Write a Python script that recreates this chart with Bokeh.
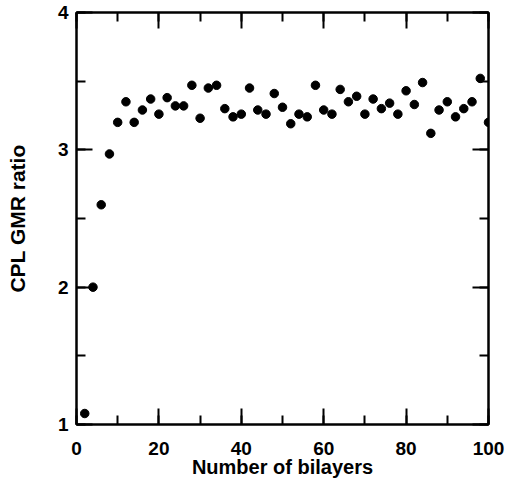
from bokeh.plotting import figure
from bokeh.models import LinearAxis, Range1d, SingleIntervalTicker, CustomJSTickFormatter
from bokeh.embed import file_html
from bokeh.resources import INLINE

# GMR ratio measured against the number of bilayers
bilayers = [2, 4, 6, 8, 10, 12, 14, 16, 18, 20,
            22, 24, 26, 28, 30, 32, 34, 36, 38, 40,
            42, 44, 46, 48, 50, 52, 54, 56, 58, 60,
            62, 64, 66, 68, 70, 72, 74, 76, 78, 80,
            82, 84, 86, 88, 90, 92, 94, 96, 98, 100]
gmr_ratio = [1.08, 2.00, 2.60, 2.97, 3.20, 3.35, 3.20, 3.29, 3.37, 3.26,
             3.38, 3.32, 3.32, 3.47, 3.23, 3.45, 3.47, 3.30, 3.24, 3.26,
             3.45, 3.29, 3.26, 3.41, 3.31, 3.19, 3.26, 3.24, 3.47, 3.29,
             3.26, 3.44, 3.35, 3.39, 3.26, 3.37, 3.30, 3.34, 3.26, 3.43,
             3.33, 3.49, 3.12, 3.29, 3.35, 3.24, 3.30, 3.35, 3.52, 3.20]

FONT = "Liberation Sans"

p = figure(width=511, height=483, output_backend="svg", toolbar_location=None,
           x_range=Range1d(0, 100), y_range=Range1d(1, 4),
           min_border_left=76, min_border_right=23,
           min_border_top=12, min_border_bottom=59,
           x_axis_label="Number of bilayers", y_axis_label="CPL GMR ratio")

p.grid.visible = False
p.background_fill_color = "white"
p.border_fill_color = "white"
p.outline_line_color = "black"
p.outline_line_width = 2

bottom = p.below[0]
left = p.left[0]

x_ticker = SingleIntervalTicker(interval=20, num_minor_ticks=2)
y_ticker = SingleIntervalTicker(interval=1, num_minor_ticks=2)
bottom.ticker = x_ticker
left.ticker = y_ticker

# mirrored tick marks on the top and right edges, without labels
blank = CustomJSTickFormatter(code="return ''")
top = LinearAxis(ticker=x_ticker, formatter=blank)
right = LinearAxis(ticker=y_ticker, formatter=blank)
p.add_layout(top, "above")
p.add_layout(right, "right")

for ax in [bottom, left, top, right]:
    ax.axis_line_width = 2
    ax.axis_line_color = "black"
    ax.major_tick_in = 16
    ax.major_tick_out = 0
    ax.minor_tick_in = 9
    ax.minor_tick_out = 0
    ax.major_tick_line_width = 2
    ax.minor_tick_line_width = 2
    ax.major_tick_line_color = "black"
    ax.minor_tick_line_color = "black"
    ax.major_label_text_font = FONT
    ax.major_label_text_font_style = "bold"
    ax.major_label_text_font_size = "19px"
    ax.major_label_text_color = "black"
    ax.axis_label_text_font = FONT
    ax.axis_label_text_font_style = "bold"
    ax.axis_label_text_color = "black"

for ax in [top, right]:
    ax.major_label_standoff = 0

bottom.major_label_standoff = 17
bottom.axis_label_standoff = -2
bottom.axis_label_text_font_size = "20px"
left.major_label_standoff = 8
left.axis_label_standoff = 26
left.axis_label_text_font_size = "21px"

p.scatter(bilayers, gmr_ratio, size=8.5, marker="circle",
          fill_color="black", line_color="black")

open("out.html", "w").write(file_html(p, INLINE))
